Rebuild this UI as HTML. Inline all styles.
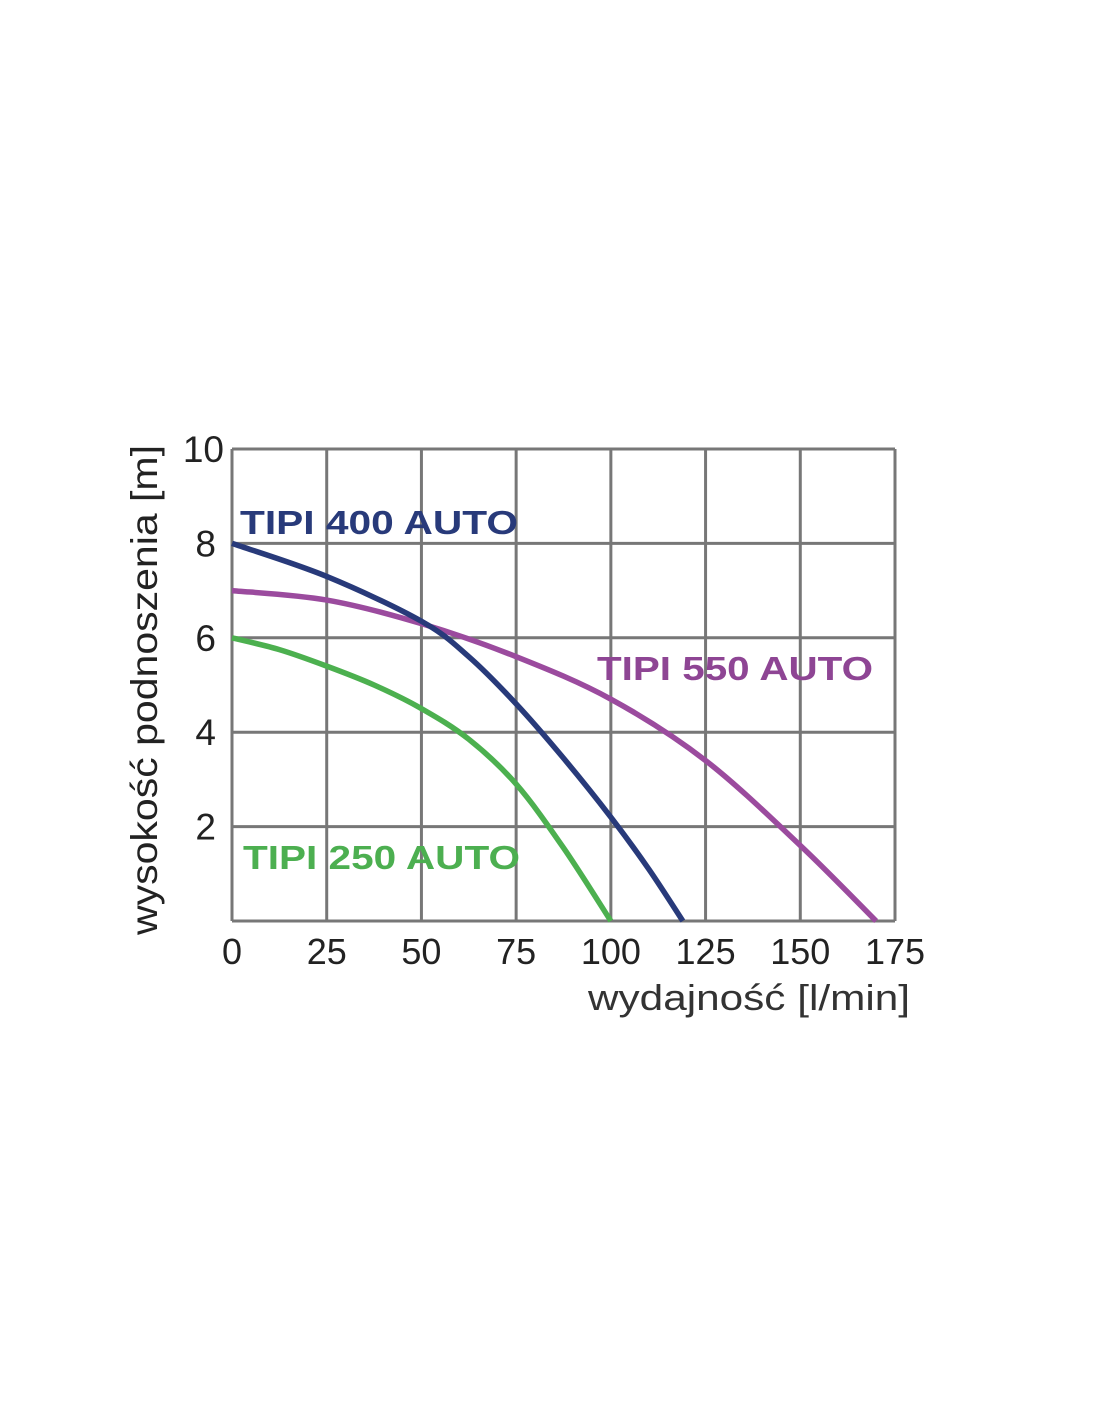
<!DOCTYPE html>
<html><head><meta charset="utf-8"><style>
body{margin:0;background:#fff}
svg{display:block;font-family:"Liberation Sans",sans-serif}
</style></head><body>
<svg id="c" width="1100" height="1422">
<g id="grid"></g><g id="series"></g><g id="labels"></g>
<text x="157" y="690" transform="rotate(-90 157 690)" text-anchor="middle" font-size="37" textLength="490" lengthAdjust="spacingAndGlyphs" fill="#222">wysokość podnoszenia [m]</text>
<text x="588" y="1010" font-size="36" textLength="322" lengthAdjust="spacingAndGlyphs" fill="#333">wydajność  [l/min]</text>
<text x="240" y="534" font-size="33" font-weight="bold" textLength="278" lengthAdjust="spacingAndGlyphs" fill="#283a7a">TIPI 400 AUTO</text>
<text x="597" y="680" font-size="33" font-weight="bold" textLength="276" lengthAdjust="spacingAndGlyphs" fill="#8e4594">TIPI 550 AUTO</text>
<text x="243" y="869" font-size="33" font-weight="bold" textLength="277" lengthAdjust="spacingAndGlyphs" fill="#4caf50">TIPI 250 AUTO</text>
</svg>
<script>
const xTicks=[0,25,50,75,100,125,150,175];
const yTicks=[0,2,4,6,8,10];
const yTickLabels=["","2","4","6","8","10"];
const s400x=[0,25,50,62.5,75,87.5,100,110,119];
const s400y=[8,7.3,6.35,5.6,4.6,3.45,2.2,1.1,0];
const s550x=[0,25,50,75,100,125,150,170];
const s550y=[7,6.8,6.3,5.6,4.7,3.4,1.6,0];
const s250x=[0,12.5,25,37.5,50,62.5,75,87.5,100];
const s250y=[6,5.75,5.4,5.0,4.5,3.85,2.9,1.55,0];
const NS="http://www.w3.org/2000/svg";
const X=v=>232+v*(895-232)/175, Y=v=>921-v*(921-449)/10;
const g=document.getElementById('grid'), sg=document.getElementById('series');
function mk(t,a,p){const e=document.createElementNS(NS,t);for(const k in a)e.setAttribute(k,a[k]);p.appendChild(e);return e;}
xTicks.forEach((v,i)=>{
 const l=mk('line',{x1:X(v),x2:X(v),y1:Y(0),y2:Y(10),stroke:'#777','stroke-width':3},g);
 
 
 const t=mk('text',{x:X(v),y:964,'text-anchor':'middle','font-size':36,fill:'#222'},g);
 t.textContent=v;
 
 
});
yTicks.forEach((v,i)=>{
 const l=mk('line',{x1:X(0),x2:X(175),y1:Y(v),y2:Y(v),stroke:'#777','stroke-width':3},g);
 
 
 const t=mk('text',{x:v==10?224:216,y:Y(v)+13,'text-anchor':'end','font-size':37,fill:'#222'},g);
 t.textContent=yTickLabels[i];
 
 
});
function curve(xs,ys,col,name){
 const p=xs.map((x,i)=>[X(x),Y(ys[i])]);
 let d='M'+p[0][0]+','+p[0][1];
 for(let i=0;i<p.length-1;i++){
  const p0=p[i-1]||p[i],p1=p[i],p2=p[i+1],p3=p[i+2]||p2;
  d+=` C${p1[0]+(p2[0]-p0[0])/6},${p1[1]+(p2[1]-p0[1])/6} ${p2[0]-(p3[0]-p1[0])/6},${p2[1]-(p3[1]-p1[1])/6} ${p2[0]},${p2[1]}`;
 }
 const e=mk('path',{d:d,fill:'none',stroke:col,'stroke-width':5.5},sg);
 
 
}
curve(s550x,s550y,'#9b4b9e','curve-tipi-550');
curve(s400x,s400y,'#283a7a','curve-tipi-400');
curve(s250x,s250y,'#4cb04f','curve-tipi-250');
</script>
</body></html>
